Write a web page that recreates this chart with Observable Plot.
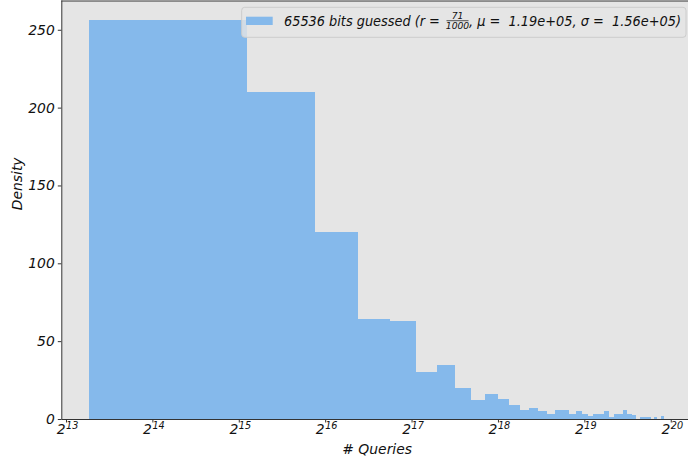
<!DOCTYPE html>
<html><head><meta charset="utf-8">
<script src="https://cdn.jsdelivr.net/npm/d3@7"></script>
<script src="https://cdn.jsdelivr.net/npm/@observablehq/plot@0.6"></script>
<style>body{margin:0;background:#fff} svg text{white-space:pre}</style>
</head><body><div id="chart"></div>
<script>
// Histogram of # queries (linear bins drawn on a log2 axis)
const binStart = 9875;
const binWidth = 25200;
const density = [256, 210, 120, 64, 63, 30, 35, 20, 12, 16, 13, 9, 6, 7, 5, 3, 6, 6, 3, 5,
                 3, 2, 3, 3, 5, 1.5, 3, 3, 6, 3, 2.5, 0, 1, 1, 1, 0, 1, 0, 2];
const xTickExponents = [13, 14, 15, 16, 17, 18, 19, 20];
const yTicks = [0, 50, 100, 150, 200, 250];
const legendLabel = {pre: "65536 bits guessed (r = ", num: "71", den: "1000", post: ", \u03bc =  1.19e+05, \u03c3 =  1.56e+05)"};

const bins = density.map((v, i) => ({x1: binStart + i * binWidth, x2: binStart + (i + 1) * binWidth, y: v}));

const xLeft = Math.pow(2, 12.9456), xRight = Math.pow(2, 20.2);
const yTop = 268.8;
const FS = 13.9;
const LFS = 13.2;
const barColor = "#85b9eb";

const plot = Plot.plot({
  width: 688, height: 464,
  marginLeft: 61.3, marginRight: 0, marginTop: 0.5, marginBottom: 45,
  style: {fontFamily: "DejaVu Sans", fontSize: FS + "px", fontStyle: "italic", background: "#fff", color: "#111"},
  x: {type: "log", base: 2, domain: [xLeft, xRight]},
  y: {domain: [0, yTop]},
  marks: [
    Plot.frame({fill: "#e5e5e5", stroke: null}),
    Plot.rectY(bins, {x1: "x1", x2: "x2", y: "y", fill: barColor, inset: 0, shapeRendering: "crispEdges"}),
    Plot.ruleY([0], {stroke: "#333", strokeWidth: 1.1}),
    Plot.ruleY([yTop], {stroke: "#333"}),
    Plot.ruleX([xLeft], {stroke: "#333"}),
    Plot.axisY({ticks: yTicks, tickSize: 3.5, tickPadding: 3.5, label: null, stroke: "#333", tickFormat: d => String(d)}),
    Plot.axisX({ticks: xTickExponents.map(e => 2 ** e), tickSize: 3.5, tickFormat: () => "", label: null, stroke: "#333"}),
    Plot.text(xTickExponents, {x: e => 2 ** e, y: 0, text: () => "2", textAnchor: "end", lineAnchor: "bottom", dx: -1, dy: 14.3}),
    Plot.text(xTickExponents, {x: e => 2 ** e, y: 0, text: e => String(e), textAnchor: "start", lineAnchor: "bottom", dx: -0.5, dy: 9.3, fontSize: 9.7}),
    Plot.text(["Density"], {frameAnchor: "left", rotate: -90, dx: -39.8, text: d => d, lineAnchor: "bottom"}),
    Plot.text(["# Queries"], {frameAnchor: "bottom", dx: 2, dy: 34, text: d => d, lineAnchor: "bottom"})
  ]
});
document.getElementById("chart").appendChild(plot);

// Legend
const svg = d3.select(plot);
const g = svg.append("g").attr("font-family", "DejaVu Sans").attr("font-style", "italic").attr("fill", "#111");
g.append("rect").attr("x", 241.7).attr("y", 7.3).attr("width", 444.3).attr("height", 30).attr("rx", 3)
  .attr("fill", "#e5e5e5").attr("fill-opacity", 0.8).attr("stroke", "#cccccc");
g.append("rect").attr("x", 246).attr("y", 16.7).attr("width", 26.7).attr("height", 8.3).attr("fill", barColor);
g.append("text").attr("x", 284).attr("y", 26).attr("font-size", LFS).attr("text-anchor", "start")
  .attr("textLength", 160).attr("lengthAdjust", "spacingAndGlyphs").text(legendLabel.pre);
const fx = 457.5;
g.append("text").attr("x", fx).attr("y", 18.6).attr("font-size", 9.2).attr("text-anchor", "middle").text(legendLabel.num);
g.append("text").attr("x", fx).attr("y", 28.6).attr("font-size", 9.2).attr("text-anchor", "middle").text(legendLabel.den);
g.append("line").attr("x1", 446.5).attr("x2", 468.5).attr("y1", 20.7).attr("y2", 20.7).attr("stroke", "#111").attr("stroke-width", 0.7);
g.append("text").attr("x", 469).attr("y", 26).attr("font-size", LFS).attr("text-anchor", "start")
  .attr("textLength", 212).attr("lengthAdjust", "spacingAndGlyphs").text(legendLabel.post);
</script></body></html>
